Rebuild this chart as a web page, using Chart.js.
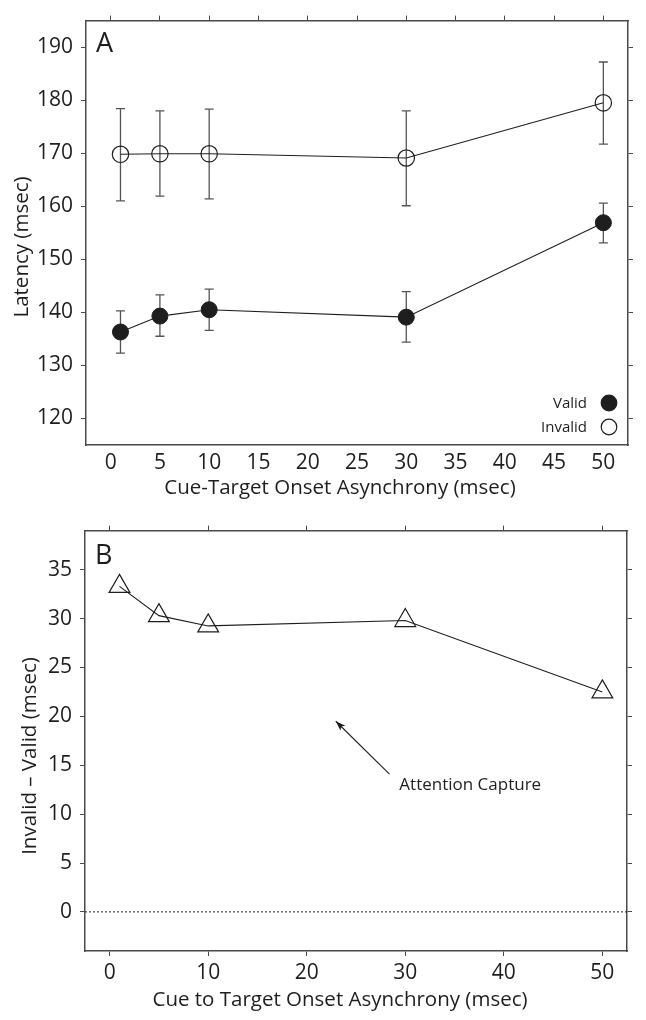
<!DOCTYPE html>
<html><head><meta charset="utf-8">
<script src="https://cdn.jsdelivr.net/npm/chart.js@4.4.0/dist/chart.umd.min.js"></script>
<style>
html,body{margin:0;padding:0;background:#fff;width:646px;height:1020px;overflow:hidden}
canvas{position:absolute;left:0}
#cA{top:0}
#cB{top:510px}
</style></head><body>
<canvas id="cA" width="646" height="510"></canvas>
<canvas id="cB" width="646" height="510"></canvas>
<script>
// ---- data ----
const soa = [1, 5, 10, 30, 50];
const validMean = [136.3, 139.3, 140.5, 139.1, 156.9];
const validLow  = [132.3, 135.5, 136.6, 134.4, 153.1];
const validHigh = [140.3, 143.3, 144.4, 143.9, 160.6];
const invalidMean = [169.8, 169.9, 169.9, 169.1, 179.5];
const invalidLow  = [161.0, 161.9, 161.4, 160.1, 171.7];
const invalidHigh = [178.4, 178.0, 178.3, 178.0, 187.2];
const cueEffect = [33.3, 30.3, 29.25, 29.8, 22.5];
const ticksXA = [0, 5, 10, 15, 20, 25, 30, 35, 40, 45, 50];
const ticksYA = [120, 130, 140, 150, 160, 170, 180, 190];
const ticksXB = [0, 10, 20, 30, 40, 50];
const ticksYB = [0, 5, 10, 15, 20, 25, 30, 35];
const legendLabels = ['Valid', 'Invalid'];
const arrowTip = [22.95, 19.5];
const arrowTail = [28.4, 14.1];
const annotText = 'Attention Capture';
const annotPos = [29.4, 13.0];

// ---- styles ----
const FONT = "'Open Sans', sans-serif";
const INK = '#1e1e1e';
const AXIS = '#4a4a4a';
const ERR = '#555';
const FS = 21;
const TFS = 20.5;

function setTicks(vals) { return s => { s.ticks = vals.map(v => ({ value: v })); }; }

function makeScales(cfg) {
  const fixed = (size, horiz) => s => { if (horiz) s.height = size; else s.width = size; };
  const border = { display: true, color: AXIS, width: 1.5 };
  return {
    x: {
      type: 'linear', position: 'bottom', min: cfg.xmin, max: cfg.xmax,
      afterBuildTicks: setTicks(cfg.xticks),
      ticks: { font: { family: FONT, size: FS }, color: INK, padding: cfg.xPad, maxRotation: 0, autoSkip: false },
      grid: { display: true, drawOnChartArea: false, drawTicks: cfg.bottomTicks, tickLength: 5, color: AXIS, lineWidth: 1 },
      border: border,
      afterFit: fixed(cfg.bottomH, true)
    },
    x2: {
      type: 'linear', position: 'top', min: cfg.xmin, max: cfg.xmax,
      afterBuildTicks: setTicks(cfg.xticks),
      ticks: { display: false },
      grid: { display: true, drawOnChartArea: false, drawTicks: true, tickLength: 5, color: AXIS, lineWidth: 1 },
      border: border,
      afterFit: fixed(cfg.topH, true)
    },
    y: {
      type: 'linear', position: 'left', min: cfg.ymin, max: cfg.ymax,
      afterBuildTicks: setTicks(cfg.yticks),
      ticks: { font: { family: FONT, size: FS }, color: INK, padding: 8 },
      grid: { display: true, drawOnChartArea: false, drawTicks: true, tickLength: 5, color: AXIS, lineWidth: 1 },
      border: border,
      afterFit: fixed(cfg.leftW, false)
    },
    y2: {
      type: 'linear', position: 'right', min: cfg.ymin, max: cfg.ymax,
      afterBuildTicks: setTicks(cfg.yticks),
      ticks: { display: false },
      grid: { display: true, drawOnChartArea: false, drawTicks: true, tickLength: 5, color: AXIS, lineWidth: 1 },
      border: border,
      afterFit: fixed(cfg.rightW, false)
    }
  };
}

// axis titles drawn as real text, offset like the original figure
const axisTitlePlugin = {
  id: 'axisTitles',
  afterDraw(chart, args, opts) {
    const { ctx } = chart;
    ctx.save();
    ctx.fillStyle = INK;
    ctx.font = `${TFS}px ${FONT}`;
    ctx.textAlign = 'center'; ctx.textBaseline = 'middle';
    ctx.fillText(opts.xText, opts.xPos[0], opts.xPos[1]);
    ctx.translate(opts.yPos[0], opts.yPos[1]);
    ctx.rotate(-Math.PI / 2);
    ctx.fillText(opts.yText, 0, 0);
    ctx.restore();
  }
};

// ---- panel A ----
const errorBarPlugin = {
  id: 'errorBars',
  beforeDatasetsDraw(chart) {
    const { ctx, scales: { x, y } } = chart;
    const sets = [[validLow, validHigh], [invalidLow, invalidHigh]];
    ctx.save();
    ctx.strokeStyle = ERR;
    ctx.lineWidth = 1.3;
    sets.forEach(([lo, hi]) => {
      soa.forEach((s, i) => {
        const px = x.getPixelForValue(s);
        const pl = y.getPixelForValue(lo[i]);
        const ph = y.getPixelForValue(hi[i]);
        ctx.beginPath();
        ctx.moveTo(px, pl); ctx.lineTo(px, ph);
        ctx.moveTo(px - 4.5, pl); ctx.lineTo(px + 4.5, pl);
        ctx.moveTo(px - 4.5, ph); ctx.lineTo(px + 4.5, ph);
        ctx.stroke();
      });
    });
    ctx.restore();
  },
  afterDraw(chart) {
    const { ctx, chartArea: a } = chart;
    ctx.save();
    ctx.fillStyle = INK;
    ctx.font = `27px ${FONT}`;
    ctx.textAlign = 'left'; ctx.textBaseline = 'alphabetic';
    ctx.fillText('A', a.left + 10, a.top + 31);
    // legend
    ctx.font = `15px ${FONT}`;
    ctx.textAlign = 'right'; ctx.textBaseline = 'middle';
    const rows = [a.bottom - 42, a.bottom - 18];
    legendLabels.forEach((lab, i) => {
      ctx.fillStyle = INK;
      ctx.fillText(lab, a.right - 41, rows[i] + 1);
      ctx.beginPath();
      ctx.arc(a.right - 19, rows[i], 7.8, 0, Math.PI * 2);
      if (i === 0) { ctx.fillStyle = INK; ctx.fill(); }
      ctx.strokeStyle = INK; ctx.lineWidth = 1.2; ctx.stroke();
    });
    ctx.restore();
  }
};

new Chart(document.getElementById('cA'), {
  type: 'scatter',
  data: {
    datasets: [
      {
        label: legendLabels[0],
        data: soa.map((s, i) => ({ x: s, y: validMean[i] })),
        showLine: true, borderColor: INK, borderWidth: 1.1,
        pointRadius: 8, pointBackgroundColor: INK, pointBorderColor: INK, pointBorderWidth: 1
      },
      {
        label: legendLabels[1],
        data: soa.map((s, i) => ({ x: s, y: invalidMean[i] })),
        showLine: true, borderColor: INK, borderWidth: 1.1,
        pointRadius: 8.2, pointBackgroundColor: 'rgba(0,0,0,0)', pointBorderColor: INK, pointBorderWidth: 1.2
      }
    ]
  },
  options: {
    responsive: false, animation: false, devicePixelRatio: 1,
    layout: { padding: 0 },
    plugins: {
      legend: { display: false }, tooltip: { enabled: false },
      axisTitles: { xText: 'Cue-Target Onset Asynchrony (msec)', xPos: [340, 488], yText: 'Latency (msec)', yPos: [22, 247] }
    },
    scales: makeScales({
      xmin: -2.5, xmax: 52.5, ymin: 115, ymax: 195,
      xticks: ticksXA, yticks: ticksYA,
      bottomTicks: false, xPad: 5,
      leftW: 86, rightW: 18, topH: 17, bottomH: 65
    })
  },
  plugins: [errorBarPlugin, axisTitlePlugin]
});

// ---- panel B ----
const annotPlugin = {
  id: 'annot',
  afterDraw(chart) {
    const { ctx, chartArea: a, scales: { x, y } } = chart;
    ctx.save();
    ctx.fillStyle = INK;
    ctx.font = `27px ${FONT}`;
    ctx.textAlign = 'left'; ctx.textBaseline = 'alphabetic';
    ctx.fillText('B', a.left + 10, a.top + 33);
    // arrow
    const tx = x.getPixelForValue(arrowTip[0]), ty = y.getPixelForValue(arrowTip[1]);
    const sx = x.getPixelForValue(arrowTail[0]), sy = y.getPixelForValue(arrowTail[1]);
    ctx.strokeStyle = INK; ctx.lineWidth = 1.1;
    ctx.beginPath(); ctx.moveTo(sx, sy); ctx.lineTo(tx, ty); ctx.stroke();
    const ang = Math.atan2(ty - sy, tx - sx);
    const L = 10, W = 3.5;
    ctx.beginPath();
    ctx.moveTo(tx, ty);
    ctx.lineTo(tx - L * Math.cos(ang) + W * Math.sin(ang), ty - L * Math.sin(ang) - W * Math.cos(ang));
    ctx.lineTo(tx - L * 0.75 * Math.cos(ang), ty - L * 0.75 * Math.sin(ang));
    ctx.lineTo(tx - L * Math.cos(ang) - W * Math.sin(ang), ty - L * Math.sin(ang) + W * Math.cos(ang));
    ctx.closePath(); ctx.fill();
    ctx.font = `17px ${FONT}`;
    ctx.textAlign = 'left'; ctx.textBaseline = 'middle';
    ctx.fillText(annotText, x.getPixelForValue(annotPos[0]), y.getPixelForValue(annotPos[1]));
    ctx.restore();
  }
};

new Chart(document.getElementById('cB'), {
  type: 'scatter',
  data: {
    datasets: [
      {
        label: 'Invalid – Valid',
        data: soa.map((s, i) => ({ x: s, y: cueEffect[i] })),
        showLine: true, borderColor: INK, borderWidth: 1.1,
        pointStyle: 'triangle', pointRadius: 12,
        pointBackgroundColor: 'rgba(0,0,0,0)', pointBorderColor: INK, pointBorderWidth: 1.2
      },
      {
        label: 'zero',
        data: [{ x: -2.5, y: 0 }, { x: 52.5, y: 0 }],
        showLine: true, borderColor: INK, borderWidth: 1, borderDash: [2, 2],
        pointRadius: 0
      }
    ]
  },
  options: {
    responsive: false, animation: false, devicePixelRatio: 1,
    layout: { padding: 0 },
    plugins: {
      legend: { display: false }, tooltip: { enabled: false },
      axisTitles: { xText: 'Cue to Target Onset Asynchrony (msec)', xPos: [340, 490], yText: 'Invalid – Valid (msec)', yPos: [30, 246] }
    },
    scales: makeScales({
      xmin: -2.5, xmax: 52.5, ymin: -4, ymax: 39,
      xticks: ticksXB, yticks: ticksYB,
      bottomTicks: true, xPad: 4,
      leftW: 85, rightW: 19, topH: 20, bottomH: 69
    })
  },
  plugins: [annotPlugin, axisTitlePlugin]
});
</script>
</body></html>
